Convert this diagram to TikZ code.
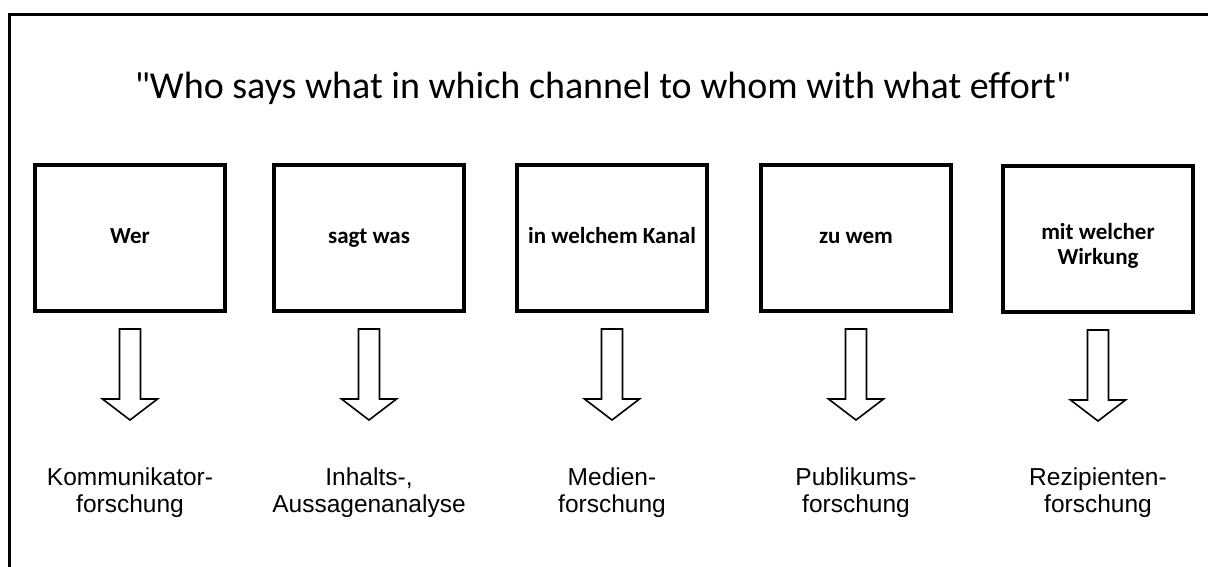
\documentclass[tikz,border=0pt]{standalone}
\usepackage{fontspec}
\setmainfont{Carlito}
\newfontfamily\titlefont{Carlito}[Ligatures=TeXOff]
\newfontfamily\labelfont{Liberation Sans}
\usetikzlibrary{calc}
\begin{document}
\begin{tikzpicture}[x=1pt,y=-1pt,
  frame/.style={draw=black,line width=3pt},
  qboxbase/.style={draw=black,line width=4pt,minimum width=190pt,minimum height=146pt,inner sep=2pt,align=center,font=\bfseries\fontsize{23}{25}\selectfont},
  qbox/.style={qboxbase,text height=15pt,text depth=5pt},
  lbl/.style={align=center,inner sep=0pt,font=\labelfont\fontsize{24.5}{27}\selectfont},
  blockarrow/.style={draw=black,line width=1.6pt,fill=white,line join=miter},
  title/.style={inner sep=0pt,font=\titlefont\fontsize{38}{44}\selectfont}]
\useasboundingbox (0,0) rectangle (1208,567);
\fill[white] (0,0) rectangle (1208,567);
\draw[frame] (9.5,14.5) rectangle (1230,590);
\node[title] (t) at (603,88) {"Who says what in which channel to whom with what effort"};
\node[qbox] (b1) at (130,238) {Wer};
\node[qbox] (b2) at (369,238) {sagt was};
\node[qbox] (b3) at (612,238) {in welchem Kanal};
\node[qbox] (b4) at (856,238) {zu wem};
\node[qboxbase] (b5) at (1098,239) {\rule{0pt}{30pt}mit welcher\\Wirkung};
\node[lbl] (l1) at (130,493) {Kommunikator-\\forschung};
\node[lbl] (l2) at (369,493) {Inhalts-,\\Aussagenanalyse};
\node[lbl] (l3) at (612,493) {Medien-\\forschung};
\node[lbl] (l4) at (856,493) {Publikums-\\forschung};
\node[lbl] (l5) at (1098,493) {Rezipienten-\\forschung};
\foreach \b in {b1,b2,b3,b4,b5}{
  \draw[blockarrow] ($(\b.south)+(-10.5,16)$) -- ++(0,70) -- ++(-17,0) -- ++(27.5,21) -- ++(27.5,-21) -- ++(-17,0) -- ++(0,-70) -- cycle;
}
\end{tikzpicture}
\end{document}
